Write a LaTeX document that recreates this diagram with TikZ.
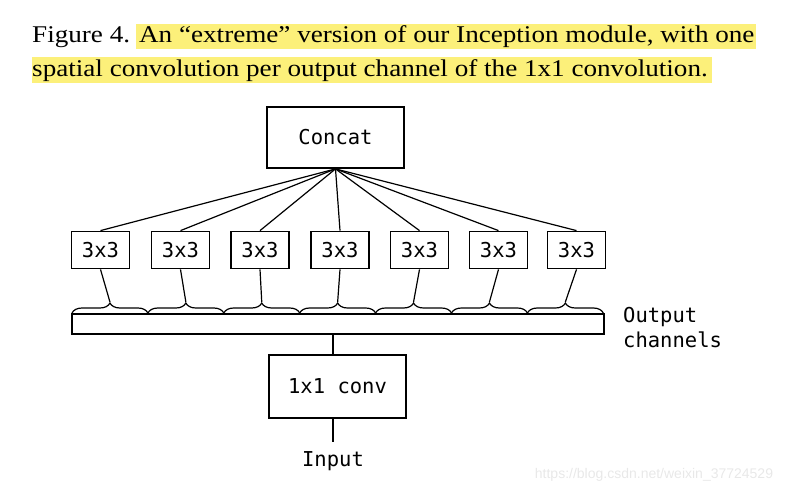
\documentclass[tikz,border=0pt]{standalone}
\usepackage{fontspec}
\setmainfont{Liberation Serif}
\newfontfamily\codefont{DejaVu Sans Mono}
\newfontfamily\markfont{Liberation Sans}
\usepackage{xcolor}
\definecolor{hlyellow}{RGB}{252,240,122}
\definecolor{wmgray}{RGB}{232,232,232}
\usetikzlibrary{positioning, decorations.pathreplacing}

\tikzset{
  opbox/.style={draw, line width=1.8pt, inner sep=0pt, font=\codefont\fontsize{20.5}{24}\selectfont},
  link/.style={line width=1.2pt},
  chbrace/.style={line width=1.2pt, decorate, decoration={brace, amplitude=10pt}}
}

\begin{document}
\begin{tikzpicture}[x=1pt, y=-1pt]
\useasboundingbox (0,0) rectangle (799,494);

% ===== Caption =====
\fill[hlyellow] (136,24) rectangle (756,49);
\fill[hlyellow] (32,57) rectangle (712,83);
\node[anchor=base west, inner sep=0pt, font=\fontsize{24}{28}\selectfont] (cap1) at (32,43)
  {\scalebox{1.13}[1]{Figure 4. An ``extreme'' version of our Inception module, with one}};
\node[anchor=base west, inner sep=0pt, font=\fontsize{24}{28}\selectfont] (cap2) at (32,77)
  {\scalebox{1.13}[1]{spatial convolution per output channel of the 1x1 convolution.}};

% ===== Top: concat =====
\node[opbox, minimum width=137pt, minimum height=61pt] (concat) at (335.5,137.5) {Concat};

% ===== Spatial convolutions =====
\foreach \i/\x in {1/100.5, 2/180.5, 3/260, 4/340, 5/419.5, 6/498.5, 7/576.5} {
  \node[opbox, minimum width=58pt, minimum height=37pt] (b\i) at (\x,250) {3x3};
  \draw[link] (concat.south) -- (b\i.north);
}

% ===== Output channels bar =====
\node[draw, line width=1.8pt, inner sep=0pt, minimum width=532pt, minimum height=20pt] (bar) at (338,324) {};
\node[anchor=west, align=left, inner sep=0pt, font=\codefont\fontsize{20.5}{25}\selectfont] (outlbl) at (623,328)
  {Output\\channels};

% braces, one per channel
\foreach \i in {1,...,7} {
  \pgfmathsetmacro{\xa}{72+75.9*(\i-1)}
  \pgfmathsetmacro{\xb}{72+75.9*\i}
  \draw[chbrace] (\xa,313) -- (\xb,313);
  \coordinate (t\i) at ({72+75.9*(\i-0.5)},302);
  \draw[link] (b\i.south) -- (t\i);
}

% ===== Bottom: 1x1 conv and input =====
\node[opbox, minimum width=137pt, minimum height=63pt] (conv) at (337.5,386.5) {1x1 conv};
\node[inner sep=0pt, font=\codefont\fontsize{20.5}{24}\selectfont] (in) at (333,461) {Input};
\draw[link] (in.north |- bar.south) -- (in.north |- conv.north);
\draw[link] (in.north |- conv.south) -- ([yshift=9pt]in.north);

% watermark
\node[inner sep=0pt, font=\markfont\fontsize{14}{16}\selectfont, text=wmgray] (mark) at (654,475)
  {https://blog.csdn.net/weixin\_37724529};

\end{tikzpicture}
\end{document}
